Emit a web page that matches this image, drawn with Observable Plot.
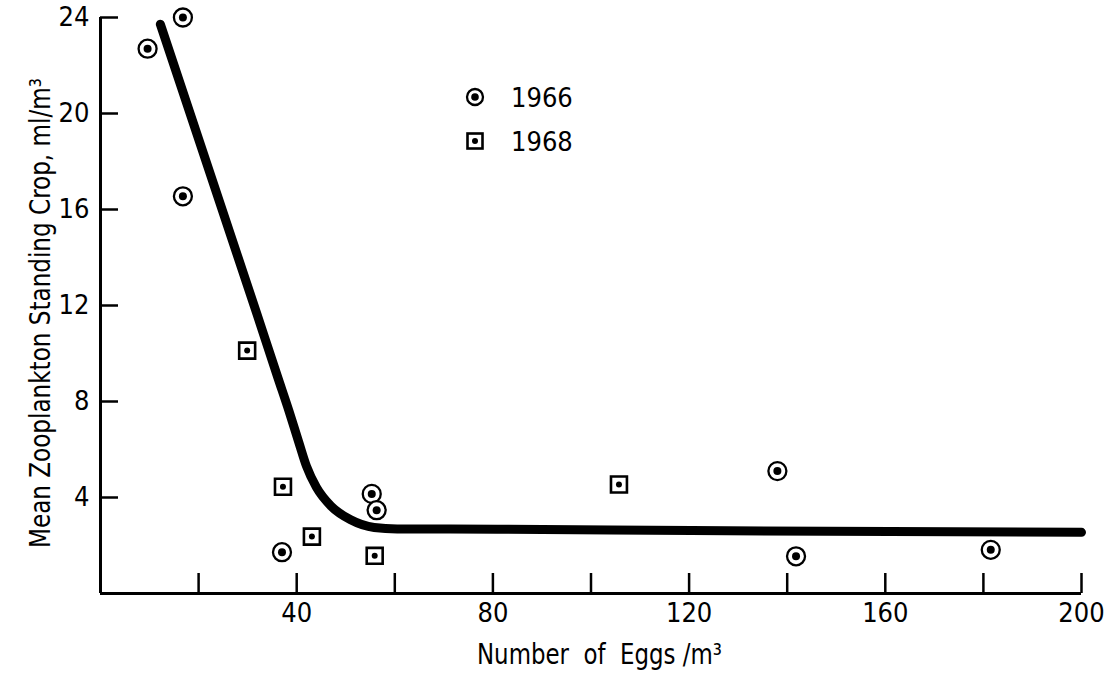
<!DOCTYPE html>
<html>
<head>
<meta charset="utf-8">
<script src="https://cdn.jsdelivr.net/npm/d3@7"></script>
<script src="https://cdn.jsdelivr.net/npm/@observablehq/plot@0.6"></script>
<style>
  html, body { margin: 0; padding: 0; background: #fff; }
  #wrap { position: relative; width: 1118px; height: 675px; overflow: hidden;
          font-family: "DejaVu Sans Condensed", "Liberation Sans Narrow", sans-serif; color: #000; }
  #legend { position: absolute; left: 463px; top: 75px; }
  .item { display: flex; align-items: center; height: 44px; }
  .item span { font-size: 27px; margin-left: 24px; line-height: 1; }
  .item svg { display: block; }
</style>
</head>
<body>
<div id="wrap"></div>
<script>
// ---- data ----
const xTicks = [20, 40, 60, 80, 100, 120, 140, 160, 180, 200];
const xTickLabels = [40, 80, 120, 160, 200];
const yTicks = [4, 8, 12, 16, 20, 24];

const years = ["1966", "1968"];

const eggs1966 = [9.6, 16.8, 16.8, 37.0, 55.3, 56.3, 138.0, 141.8, 181.5];
const crop1966 = [22.7, 24.0, 16.55, 1.72, 4.15, 3.47, 5.1, 1.55, 1.82];

const eggs1968 = [29.9, 37.2, 43.1, 55.9, 105.7];
const crop1968 = [10.12, 4.45, 2.37, 1.57, 4.54];

const curveEggs = [12.2, 31.9, 36.15, 38.4, 40.4, 42.0, 44.0, 47.0, 51.0, 55.8, 60.5, 80.9, 120.5, 200];
const curveCrop = [23.72, 11.64, 9.0, 7.62, 6.32, 5.3, 4.43, 3.64, 3.07, 2.75, 2.69, 2.68, 2.62, 2.55];

const xTitle = "Number  of  Eggs /m³";
const yTitle = "Mean Zooplankton Standing Crop, ml/m³";

// ---- build tables ----
const pts66 = eggs1966.map((x, i) => ({x, y: crop1966[i]}));
const pts68 = eggs1968.map((x, i) => ({x, y: crop1968[i]}));
const curve = curveEggs.map((x, i) => ({x, y: curveCrop[i]}));

const FONT = '"DejaVu Sans Condensed", "Liberation Sans Narrow", sans-serif';

const plot = Plot.plot({
  width: 1118,
  height: 675,
  marginLeft: 100,
  marginRight: 37,
  marginTop: 17,
  marginBottom: 82,
  style: {fontFamily: FONT, fontSize: "27px", color: "#000", background: "#fff"},
  x: {domain: [0, 200], label: null},
  y: {domain: [0, 24], label: null},
  marks: [
    Plot.ruleX([0], {stroke: "#000", strokeWidth: 3}),
    Plot.ruleY([0], {stroke: "#000", strokeWidth: 3}),
    Plot.axisX({
      ticks: xTicks, tickSize: -20, tickPadding: 29, strokeWidth: 2.5,
      tickFormat: d => xTickLabels.includes(d) ? String(d) : "",
      label: null, fontSize: 27
    }),
    Plot.axisY({
      ticks: yTicks, tickSize: -18, tickPadding: 29, strokeWidth: 2.5,
      label: null, fontSize: 27
    }),
    Plot.line(curve, {x: "x", y: "y", curve: "monotone-x", stroke: "#000", strokeWidth: 9, strokeLinecap: "round", strokeLinejoin: "round"}),
    Plot.dot(pts66, {x: "x", y: "y", r: 9, stroke: "#000", strokeWidth: 2.3, fill: "#fff"}),
    Plot.dot(pts66, {x: "x", y: "y", r: 4, fill: "#000", stroke: "none"}),
    Plot.dot(pts68, {x: "x", y: "y", symbol: "square", r: 9, stroke: "#000", strokeWidth: 2.6, fill: "#fff"}),
    Plot.dot(pts68, {x: "x", y: "y", r: 3, fill: "#000", stroke: "none"})
  ]
});

// ---- axis titles ----
const svg = d3.select(plot);
const xs = plot.scale("x"), ys = plot.scale("y");
const xmid = (xs.range[0] + xs.range[1]) / 2;
const ymid = (ys.range[0] + ys.range[1]) / 2;
const bottom = ys.range[0];

svg.append("text")
  .attr("x", xmid + 9).attr("y", bottom + 71)
  .attr("text-anchor", "middle")
  .attr("textLength", 245).attr("lengthAdjust", "spacingAndGlyphs")
  .attr("font-family", FONT).attr("font-size", 28).attr("fill", "#000")
  .text(xTitle);

svg.append("text")
  .attr("transform", "rotate(-90)")
  .attr("x", -(ymid + 8)).attr("y", 50)
  .attr("text-anchor", "middle")
  .attr("textLength", 470).attr("lengthAdjust", "spacingAndGlyphs")
  .attr("font-family", FONT).attr("font-size", 28).attr("fill", "#000")
  .text(yTitle);

const wrap = document.getElementById("wrap");
wrap.appendChild(plot);

// ---- legend ----
const legend = document.createElement("div");
legend.id = "legend";
const symbols = {
  "1966": '<svg width="24" height="24"><circle cx="12" cy="12" r="8" fill="#fff" stroke="#000" stroke-width="2.3"/><circle cx="12" cy="12" r="3.8" fill="#000"/></svg>',
  "1968": '<svg width="24" height="24"><rect x="4.5" y="4.5" width="15" height="15" fill="#fff" stroke="#000" stroke-width="2.6"/><circle cx="12" cy="12" r="3" fill="#000"/></svg>'
};
years.forEach(yr => {
  const it = document.createElement("div");
  it.className = "item";
  it.innerHTML = symbols[yr] + "<span>" + yr + "</span>";
  legend.appendChild(it);
});
wrap.appendChild(legend);
</script>
</body>
</html>
